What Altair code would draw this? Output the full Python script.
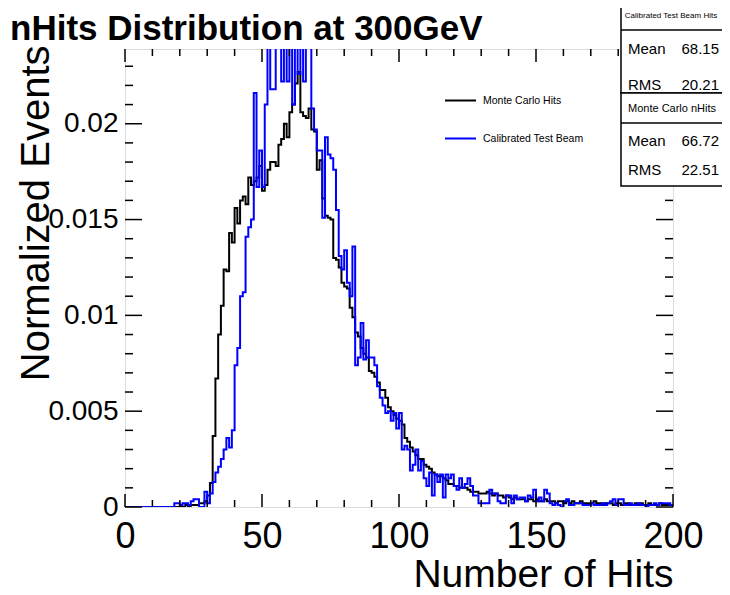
import altair as alt
import pandas as pd

FONT = "Liberation Sans"

# ---------------- data ----------------
bin_low = list(range(0, 200))

mc_hits = [
    0, 0, 0, 0, 0, 0, 0, 0, 0, 0,
    0, 0, 0, 0, 0, 0, 0, 0, 0, 0,
    0, 0, 0.0001, 0, 0.0001, 0.0001, 0.0001, 0.0002, 0.0002, 0.0003,
    0.0006, 0.00125, 0.0037, 0.0067, 0.0090, 0.0105, 0.0124, 0.0123, 0.0143, 0.0138,
    0.0156, 0.0148, 0.0160, 0.0162, 0.0158, 0.0172, 0.0168, 0.0170, 0.0172, 0.0178,
    0.0165, 0.0168, 0.0176, 0.0180, 0.0180, 0.0178, 0.0189, 0.0192, 0.0200, 0.0193,
    0.0206, 0.0210, 0.0221, 0.0227, 0.0206, 0.0204, 0.0203, 0.0208, 0.0197, 0.0196,
    0.0176, 0.0181, 0.0161, 0.0152, 0.0151, 0.0150, 0.0130, 0.0129, 0.0125, 0.0117,
    0.0115, 0.0114, 0.0104, 0.0099, 0.0091, 0.0089, 0.0083, 0.0080, 0.0078, 0.0071,
    0.0070, 0.0068, 0.0065, 0.0061, 0.0061, 0.0057, 0.0052, 0.0050, 0.0048, 0.0046,
    0.0045, 0.0043, 0.0036, 0.0034, 0.0031, 0.0029, 0.0027, 0.0025, 0.0025, 0.0022,
    0.0021, 0.0020, 0.0018, 0.0017, 0.0016, 0.0016, 0.0015, 0.0014, 0.0012, 0.0012,
    0.0011, 0.0011, 0.0010, 0.0010, 0.0010, 0.0009, 0.0008, 0.0008, 0.0008, 0.0007,
    0.0007, 0.0007, 0.0008, 0.0007, 0.0006, 0.0007, 0.0006, 0.0006, 0.0005, 0.0006,
    0.0005, 0.0004, 0.0005, 0.0004, 0.0004, 0.0004, 0.0003, 0.0004, 0.0004, 0.0003,
    0.0004, 0.0003, 0.0003, 0.0004, 0.0003, 0.0003, 0.0003, 0.0002, 0.0003, 0.0003,
    0.0002, 0.0003, 0.0002, 0.0003, 0.0002, 0.0002, 0.0003, 0.0002, 0.0002, 0.0002,
    0.0002, 0.0003, 0.0002, 0.0002, 0.0001, 0.0002, 0.0002, 0.0002, 0.0001, 0.0002,
    0.0002, 0.0001, 0.0002, 0.0002, 0.0001, 0.0001, 0.0002, 0.0001, 0.0002, 0.0001,
    0.0001, 0.0002, 0.0001, 0.0001, 0.0001, 0.0002, 0.0001, 0.0001, 0.0001, 0.0001,
]

tb_hits = [
    0, 0, 0, 0, 0, 0, 0, 0, 0, 0,
    0, 0, 0, 0, 0, 0, 0, 0, 0.0002, 0.0002,
    0.0001, 0.0002, 0.0002, 0.0001, 0.0003, 0.0004, 0.0004, 0, 0, 0.0008,
    0.0002, 0.0007, 0.0013, 0.0018, 0.0021, 0.0025, 0.0030, 0.0036, 0.0031, 0.0040,
    0.0074, 0.0083, 0.0110, 0.0112, 0.0141, 0.0146, 0.0150, 0.0216, 0.0167, 0.0186,
    0.0167, 0.0210, 0.0250, 0.0218, 0.0218, 0.0250, 0.0250, 0.0222, 0.0250, 0.0222,
    0.0250, 0.0210, 0.0250, 0.0226, 0.0250, 0.0222, 0.0250, 0.0250, 0.0208, 0.0197,
    0.0186, 0.0186, 0.0151, 0.0193, 0.0184, 0.0182, 0.0176, 0.0155, 0.0131, 0.0124,
    0.0134, 0.0117, 0.0110, 0.0136, 0.0074, 0.0078, 0.0096, 0.0077, 0.0087, 0.0078,
    0.0078, 0.0074, 0.0063, 0.0057, 0.0053, 0.0049, 0.0050, 0.0045, 0.0049, 0.0041,
    0.0049, 0.0030, 0.0032, 0.0030, 0.0019, 0.0022, 0.0030, 0.0019, 0.0024, 0.0015,
    0.0011, 0.0018, 0.0006, 0.0017, 0.0013, 0.0017, 0.0005, 0.0017, 0.0015, 0.0017,
    0.0011, 0.0009, 0.0015, 0.0010, 0.0012, 0.0015, 0.0011, 0.0006, 0.0006, 0.0002,
    0.0002, 0.0002, 0.0002, 0.0009, 0.0007, 0.0007, 0.0003, 0.0002, 0.0002, 0.0006,
    0.0006, 0.0002, 0.0006, 0.0004, 0.0005, 0.0005, 0.0003, 0.0006, 0.0005, 0.0009,
    0.0003, 0.0005, 0.0003, 0.0009, 0.0007, 0.0002, 0.0001, 0.0002, 0.0001, 0,
    0.0003, 0.0004, 0.0001, 0.0001, 0.0002, 0.0002, 0.0002, 0.0001, 0.0001, 0.0001,
    0.0002, 0.0001, 0.0001, 0.0001, 0.0002, 0.0001, 0.0002, 0.0003, 0.0004, 0.0001,
    0.0004, 0.0004, 0.0001, 0.0001, 0.0002, 0.0001, 0.0001, 0.0002, 0.0001, 0.0001,
    0, 0.0001, 0.0001, 0.0002, 0.0001, 0.0002, 0.0002, 0.0002, 0.0002, 0.0001,
]

series_names = ["Monte Carlo Hits", "Calibrated Test Beam"]
series_colors = ["#000000", "#0000ff"]

x_major = [0, 50, 100, 150, 200]
x_minor = [10, 20, 30, 40, 60, 70, 80, 90, 110, 120, 130, 140, 160, 170, 180, 190]
y_major = [0, 0.005, 0.01, 0.015, 0.02]
y_minor = [0.001, 0.002, 0.003, 0.004, 0.006, 0.007, 0.008, 0.009, 0.011, 0.012,
           0.013, 0.014, 0.016, 0.017, 0.018, 0.019, 0.021, 0.022, 0.023]

chart_title = "nHits Distribution at 300GeV"
stat_names = ["Mean", "RMS"]
box_titles = ["Calibrated Test Beam Hits", "Monte Carlo nHits"]
tb_stat_values = [68.15, 20.21]
mc_stat_values = [66.72, 22.51]

# ---------------- chart ----------------
W, H = 548, 458
xscale = alt.Scale(domain=[0, 200], nice=False, zero=False)
yscale = alt.Scale(domain=[0, 0.0239], nice=False)
cscale = alt.Scale(domain=series_names, range=series_colors)


def series_df(name, vals):
    return pd.DataFrame({
        "hits": bin_low + [200],
        "events": list(vals) + [vals[-1]],
        "series": name,
    })


x_axis = alt.Axis(
    values=x_major, title="Number of Hits", titleFont=FONT, titleFontSize=39,
    titleFontWeight="normal", titleColor="black", titleAlign="right",
    titleBaseline="alphabetic", titleX=W, titleY=79, titleAngle=0,
    labelFont=FONT, labelFontSize=36, labelColor="black", labelPadding=40,
    labelBaseline="alphabetic", labelFlush=False, labelOverlap=False,
    ticks=False, tickSize=0, domain=False, grid=False,
)
y_axis = alt.Axis(
    values=y_major, format="~g", title="Normalized Events", titleFont=FONT,
    titleFontSize=40, titleFontWeight="normal", titleColor="black",
    titleAngle=-90, titleAlign="right", titleBaseline="alphabetic",
    titleX=-77, titleY=-4,
    labelFont=FONT, labelFontSize=28, labelColor="black", labelPadding=7,
    labelOverlap=False, ticks=False, tickSize=0, domain=False, grid=False,
)
legend = alt.Legend(
    orient="none", legendX=319, legendY=35, title=None, padding=0,
    symbolType="stroke", symbolSize=961, symbolStrokeWidth=2,
    labelFont=FONT, labelFontSize=10.5, labelColor="black", labelOffset=6,
    rowPadding=16,
)


def hist_layer(name, vals):
    return alt.Chart(series_df(name, vals)).mark_line(
        interpolate="step-after", strokeWidth=2, clip=True, strokeJoin="miter"
    ).encode(
        x=alt.X("hits:Q", scale=xscale, axis=x_axis),
        y=alt.Y("events:Q", scale=yscale, axis=y_axis),
        color=alt.Color("series:N", scale=cscale, legend=legend),
    )


def xticks(vals, length):
    df = pd.DataFrame({"hits": vals})
    bottom = alt.Chart(df).mark_rule(color="black", strokeWidth=1.5).encode(
        x=alt.X("hits:Q", scale=xscale, axis=x_axis),
        y=alt.value(H), y2=alt.value(H - length))
    top = alt.Chart(df).mark_rule(color="black", strokeWidth=1.5).encode(
        x=alt.X("hits:Q", scale=xscale, axis=x_axis),
        y=alt.value(0), y2=alt.value(length))
    return [bottom, top]


def yticks(vals, length):
    df = pd.DataFrame({"events": vals})
    left = alt.Chart(df).mark_rule(color="black", strokeWidth=1.5).encode(
        y=alt.Y("events:Q", scale=yscale, axis=y_axis),
        x=alt.value(0), x2=alt.value(length))
    right = alt.Chart(df).mark_rule(color="black", strokeWidth=1.5).encode(
        y=alt.Y("events:Q", scale=yscale, axis=y_axis),
        x=alt.value(W), x2=alt.value(W - length))
    return [left, right]


one = pd.DataFrame({"k": [0]})
BOX_L, BOX_R = 496, 600


def box(y0, y1):
    return alt.Chart(one).mark_rect(fill="white", stroke="black", strokeWidth=1.5).encode(
        x=alt.value(BOX_L), x2=alt.value(BOX_R), y=alt.value(y0), y2=alt.value(y1))


def sep(y):
    return alt.Chart(one).mark_rule(color="black", strokeWidth=1.5).encode(
        x=alt.value(BOX_L), x2=alt.value(BOX_R), y=alt.value(y))


def label(txt, x, y, size, align="left", baseline="middle", weight="normal"):
    return alt.Chart(one).mark_text(
        text=txt, align=align, baseline=baseline, font=FONT, fontSize=size,
        fontWeight=weight, color="black"
    ).encode(x=alt.value(x), y=alt.value(y))


layers = [hist_layer(series_names[0], mc_hits), hist_layer(series_names[1], tb_hits)]
layers += xticks(x_major, 13) + xticks(x_minor, 7)
layers += yticks(y_major, 17) + yticks(y_minor, 8)

# stats boxes
layers += [box(-43, 44), sep(-19), box(44, 137), sep(74)]
layers += [label(box_titles[0], 546, -33, 8, "center")]
for i, yy in enumerate([0, 36]):
    layers += [label(stat_names[i], 503, yy, 15),
               label(f"{tb_stat_values[i]:.2f}", 594, yy, 15, "right")]
layers += [label(box_titles[1], 503, 60, 11)]
for i, yy in enumerate([92, 121]):
    layers += [label(stat_names[i], 503, yy, 15),
               label(f"{mc_stat_values[i]:.2f}", 594, yy, 15, "right")]

# chart title (ROOT-style, top left of the canvas)
layers += [label(chart_title, -115, -9, 35, "left", "alphabetic", "bold")]

chart = alt.layer(*layers).properties(
    width=W, height=H,
    autosize=alt.AutoSizeParams(type="none"),
    padding={"left": 117, "top": 41, "right": 49, "bottom": 88},
).configure_view(stroke="black", strokeWidth=2).configure(background="white")

chart.save("out.html", embed_options={"renderer": "svg", "actions": False})
